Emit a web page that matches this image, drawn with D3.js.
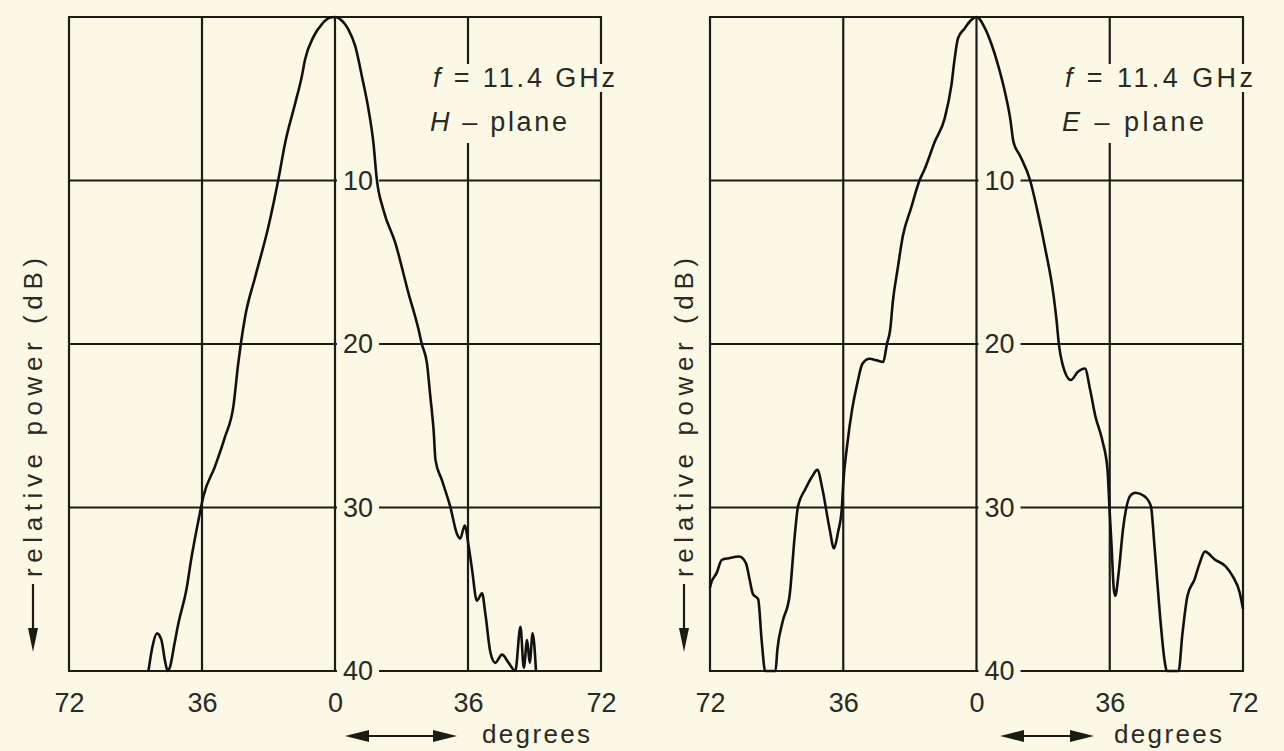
<!DOCTYPE html>
<html>
<head>
<meta charset="utf-8">
<script src="https://cdn.jsdelivr.net/npm/d3@7"></script>
<style>
  html, body { margin: 0; padding: 0; background: #fbf9e5; }
  svg { display: block; }
  text { font-family: "Liberation Sans", Arial, sans-serif; fill: #2a2a24; }
</style>
</head>
<body>
<svg id="chart" width="1284" height="751"></svg>
<script>
// Tick values shared by both panels
const degTicks = [-72, -36, 0, 36, 72];
const dbTicks = [10, 20, 30, 40];

// H-plane pattern, [degrees, relative power dB]
const hPlane = [
  [-50.5, 40], [-49.4, 38.5], [-48.2, 37.7], [-47.0, 38.1], [-46.0, 39.4], [-45.3, 40],
  [-44.6, 39.7], [-43.5, 38.4], [-42.4, 37.1], [-40.2, 35.0], [-38.8, 33.0], [-37.5, 31.4],
  [-36.8, 30.6], [-35.6, 29.3], [-32.5, 27.5], [-29.8, 25.7], [-27.5, 23.8], [-26.2, 21.2],
  [-25.5, 20.0], [-24.3, 18.3], [-21.6, 15.9], [-18.0, 12.8], [-15.3, 9.9], [-13.5, 7.7],
  [-10.8, 5.3], [-9.0, 3.65], [-8.1, 2.6], [-5.8, 1.2], [-3.6, 0.45], [-1.5, 0.05], [0, 0],
  [1.5, 0.15], [3.7, 0.8], [5.5, 1.8], [7.3, 3.65], [9.1, 5.7], [10.4, 7.7], [11.3, 9.9],
  [13.1, 11.8], [16.3, 13.8], [19.9, 16.9], [22.6, 19.1], [23.5, 20.0], [24.9, 21.2],
  [25.8, 23.2], [26.7, 25.3], [27.2, 27.1], [28.9, 28.3], [31.2, 29.95], [33.0, 31.6],
  [33.9, 31.9], [35.1, 31.1], [36.2, 32.4], [37.1, 33.8], [38.4, 35.7], [39.8, 35.25],
  [40.7, 36.5], [42.1, 38.9], [43.4, 39.5], [45.2, 39.0], [47.0, 39.5], [48.8, 40],
  [50.2, 37.3], [51.1, 39.8], [52.0, 38.1], [52.7, 39.5], [53.5, 37.7], [54.4, 40]
];

// E-plane pattern
const ePlane = [
  [-72, 34.9], [-71.8, 34.7], [-70.2, 34.0], [-68.8, 33.2], [-66.9, 33.1], [-64.1, 33.0],
  [-62.3, 33.4], [-61.3, 34.4], [-60.4, 35.3], [-59.0, 35.6], [-58.0, 38.25], [-57.1, 40],
  [-54.3, 40], [-53.8, 38.7], [-52.4, 37.0], [-50.5, 35.4], [-49.1, 31.7], [-48.2, 29.9],
  [-46.3, 28.9], [-44.4, 28.1], [-43.0, 27.7], [-41.6, 28.9], [-39.7, 31.3], [-38.5, 32.5],
  [-37.4, 31.5], [-36.4, 30.1], [-36.0, 28.5], [-35.0, 26.3], [-33.6, 24.0], [-32.2, 22.4],
  [-30.8, 21.2], [-28.9, 20.9], [-27.0, 21.0], [-25.2, 21.1], [-24.2, 20.0], [-23.3, 19.1],
  [-22.6, 17.4], [-21.3, 15.4], [-19.9, 13.4], [-17.7, 11.7], [-15.4, 10.0], [-14.0, 9.3],
  [-11.3, 7.65], [-8.6, 6.2], [-6.8, 4.2], [-5.9, 2.55], [-5.0, 1.3], [-3.2, 0.7],
  [-1.5, 0.2], [0, 0], [2.3, 0.7], [4.1, 1.7], [5.9, 3.0], [7.7, 4.6], [9.1, 6.2],
  [10.0, 7.65], [11.8, 8.5], [14.5, 10.0], [16.3, 11.7], [18.6, 14.2], [20.8, 17.0],
  [21.6, 18.5], [22.3, 20.1], [23.2, 21.2], [25.5, 22.2], [27.4, 21.7], [29.3, 21.5],
  [30.7, 22.8], [32.1, 24.4], [34.0, 25.9], [35.4, 27.7], [35.9, 29.9], [36.5, 32.4],
  [37.1, 35.0], [37.5, 35.4], [38.4, 34.0], [39.6, 31.3], [41.5, 29.3], [42.9, 29.1],
  [45.3, 29.3], [47.1, 29.9], [48.1, 32.4], [49.5, 36.4], [50.9, 39.5], [51.4, 40],
  [54.6, 40], [55.6, 37.8], [57.0, 35.4], [58.9, 34.4], [60.3, 33.4], [61.7, 32.7],
  [64.5, 33.2], [67.3, 33.6], [69.2, 34.2], [71.1, 35.2], [72, 36.2]
];

const freqLabel = '11.4 GHz';
const planeLabels = ['H', 'E'];

// Page layout for the two panels
const panels = [
  { data: hPlane, plane: planeLabels[0], left: 69, right: 601, noteX: 433, noteLen1: 182, noteLen2: 137,
    arrowX0: 345, arrowX1: 457, degX: 482, yLabelX: 42 },
  { data: ePlane, plane: planeLabels[1], left: 710, right: 1243, noteX: 1065, noteLen1: 188, noteLen2: 142,
    arrowX0: 1000, arrowX1: 1094, degX: 1114, yLabelX: 693 }
];

const ink = '#1c1c17';
const paper = '#fbf9e5';
const svg = d3.select('#chart');
svg.append('rect').attr('width', 1284).attr('height', 751).attr('fill', paper);

const y = d3.scaleLinear().domain([0, 40]).range([17, 671]);

// put a paper-coloured patch behind a text so grid lines break around it
function knockout(g, textNode, padX, padY) {
  const b = textNode.getBBox();
  return g.insert('rect', () => textNode)
    .attr('x', b.x - padX).attr('y', b.y - padY)
    .attr('width', b.width + 2 * padX).attr('height', b.height + 2 * padY)
    .attr('fill', paper);
}

panels.forEach(p => {
  const x = d3.scaleLinear().domain([-72, 72]).range([p.left, p.right]);
  const g = svg.append('g');

  // Grid
  const grid = g.append('g').attr('stroke', ink).attr('stroke-width', 2.2);
  grid.selectAll('line.v')
    .data(degTicks)
    .join('line')
    .attr('x1', d => x(d)).attr('x2', d => x(d))
    .attr('y1', y(0)).attr('y2', y(40));
  grid.selectAll('line.h')
    .data([0].concat(dbTicks))
    .join('line')
    .attr('x1', x(-72) - 1).attr('x2', x(72) + 1)
    .attr('y1', d => y(d)).attr('y2', d => y(d));

  // Degree tick labels
  const xAxis = g.append('g')
    .attr('transform', `translate(0,${y(40)})`)
    .call(d3.axisBottom(x).tickValues(degTicks).tickFormat(d => Math.abs(d)).tickSize(0).tickPadding(22));
  xAxis.select('.domain').remove();
  xAxis.attr('font-family', null).attr('font-size', null);
  xAxis.selectAll('text').attr('font-size', 27).attr('fill', '#2a2a24');

  // dB labels sit on the centre line
  const yAxis = g.append('g')
    .attr('transform', `translate(${x(0)},0)`)
    .call(d3.axisRight(y).tickValues(dbTicks).tickSize(0).tickPadding(8));
  yAxis.select('.domain').remove();
  yAxis.attr('font-family', null).attr('font-size', null);
  yAxis.selectAll('text').attr('font-size', 27).attr('fill', '#2a2a24');
  yAxis.selectAll('.tick text').each(function() {
    knockout(d3.select(this.parentNode), this, 6, -2);
  });

  // Annotation
  const note = g.append('g').attr('font-size', 27);
  const t1 = note.append('text').attr('x', p.noteX).attr('y', 87)
    .attr('textLength', p.noteLen1).attr('lengthAdjust', 'spacing');
  t1.append('tspan').attr('font-style', 'italic').text('f');
  t1.append('tspan').text(' = ' + freqLabel);
  const t2 = note.append('text').attr('x', p.noteX - 3).attr('y', 131)
    .attr('textLength', p.noteLen2).attr('lengthAdjust', 'spacing');
  t2.append('tspan').attr('font-style', 'italic').text(p.plane);
  t2.append('tspan').text(' – plane');
  const r1 = knockout(note, t1.node(), 5, -1);
  const b2 = t2.node().getBBox();
  const top2 = +r1.attr('y') + +r1.attr('height');
  note.insert('rect', () => t2.node())
    .attr('x', b2.x - 5).attr('y', top2)
    .attr('width', b2.width + 10).attr('height', b2.y + b2.height + 6 - top2)
    .attr('fill', paper);

  // Vertical axis title with downward arrow
  g.append('text')
    .attr('transform', `translate(${p.yLabelX},577) rotate(-90)`)
    .attr('font-size', 26)
    .attr('textLength', 319).attr('lengthAdjust', 'spacing')
    .text('relative power (dB)');
  const ax = p.yLabelX - 9;
  g.append('line').attr('x1', ax).attr('x2', ax).attr('y1', 584).attr('y2', 632)
    .attr('stroke', ink).attr('stroke-width', 2.2);
  g.append('path')
    .attr('d', `M${ax - 5},628 L${ax + 5},628 L${ax},652 Z`)
    .attr('fill', ink);

  // Double arrow and "degrees"
  const ay = 736;
  g.append('line').attr('x1', p.arrowX0 + 10).attr('x2', p.arrowX1 - 10).attr('y1', ay).attr('y2', ay)
    .attr('stroke', ink).attr('stroke-width', 2);
  g.append('path')
    .attr('d', `M${p.arrowX0},${ay} L${p.arrowX0 + 24},${ay - 6} L${p.arrowX0 + 24},${ay + 6} Z`)
    .attr('fill', ink);
  g.append('path')
    .attr('d', `M${p.arrowX1},${ay} L${p.arrowX1 - 24},${ay - 6} L${p.arrowX1 - 24},${ay + 6} Z`)
    .attr('fill', ink);
  g.append('text').attr('x', p.degX).attr('y', 743)
    .attr('font-size', 26)
    .attr('textLength', 108).attr('lengthAdjust', 'spacing')
    .text('degrees');

  // Pattern trace
  const line = d3.line()
    .x(d => x(d[0]))
    .y(d => y(d[1]))
    .curve(d3.curveMonotoneX);
  g.append('path')
    .datum(p.data)
    .attr('d', line)
    .attr('fill', 'none')
    .attr('stroke', '#111')
    .attr('stroke-width', 2.6)
    .attr('stroke-linejoin', 'round');
});
</script>
</body>
</html>
